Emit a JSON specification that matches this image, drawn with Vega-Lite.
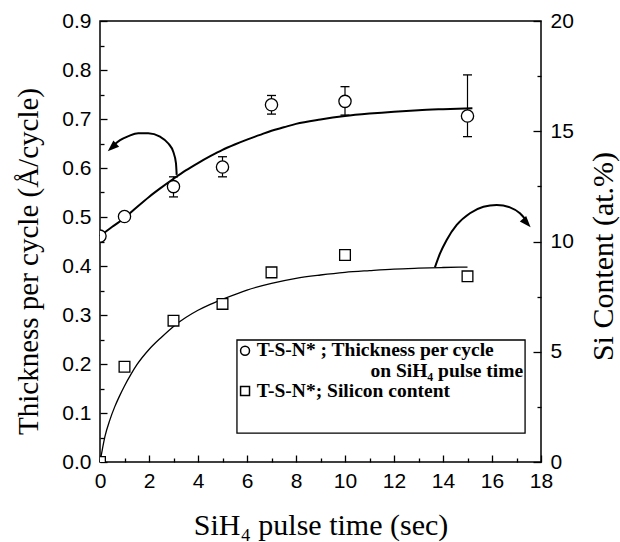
{
  "$schema": "https://vega.github.io/schema/vega-lite/v6.json",
  "width": 441,
  "height": 441,
  "autosize": {"type": "none"},
  "padding": {"left": 100, "top": 21, "right": 79, "bottom": 80},
  "background": "white",
  "config": {
    "view": {"stroke": "black", "strokeWidth": 1.5},
    "axis": {
      "labelFont": "Liberation Sans", "labelFontSize": 21, "labelColor": "black",
      "tickColor": "black", "tickWidth": 1.3, "domain": false, "grid": false,
      "titleFont": "Liberation Serif", "titleFontWeight": "normal", "titleColor": "black",
      "labelFlush": false, "labelOverlap": false
    }
  },
  "datasets": {
    "circles": [
      {"x": 0, "y": 0.461}, {"x": 1, "y": 0.501}, {"x": 3, "y": 0.562}, {"x": 5, "y": 0.602},
      {"x": 7, "y": 0.729}, {"x": 10, "y": 0.736}, {"x": 15, "y": 0.706}
    ],
    "errs": [
      {"x": 3, "lo": 0.541, "hi": 0.582}, {"x": 5, "lo": 0.582, "hi": 0.623},
      {"x": 7, "lo": 0.710, "hi": 0.748}, {"x": 10, "lo": 0.708, "hi": 0.766},
      {"x": 15, "lo": 0.664, "hi": 0.790}
    ],
    "squares": [
      {"x": 0, "y": 0}, {"x": 1, "y": 4.32}, {"x": 3, "y": 6.41}, {"x": 5, "y": 7.17},
      {"x": 7, "y": 8.6}, {"x": 10, "y": 9.39}, {"x": 15, "y": 8.42}
    ],
    "fitT": [
      {"x": 0, "y": 0.461}, {"x": 0.5, "y": 0.480}, {"x": 1, "y": 0.498}, {"x": 1.5, "y": 0.520},
      {"x": 2, "y": 0.541}, {"x": 2.5, "y": 0.560}, {"x": 3, "y": 0.578}, {"x": 3.5, "y": 0.595},
      {"x": 4, "y": 0.610}, {"x": 4.5, "y": 0.624}, {"x": 5, "y": 0.637}, {"x": 5.5, "y": 0.648},
      {"x": 6, "y": 0.658}, {"x": 6.5, "y": 0.667}, {"x": 7, "y": 0.676}, {"x": 7.5, "y": 0.683},
      {"x": 8, "y": 0.690}, {"x": 9, "y": 0.699}, {"x": 10, "y": 0.706}, {"x": 11, "y": 0.711},
      {"x": 12, "y": 0.715}, {"x": 13, "y": 0.718}, {"x": 14, "y": 0.720}, {"x": 15.2, "y": 0.722}
    ],
    "fitS": [
      {"x": 0, "y": 0}, {"x": 0.1, "y": 0.6}, {"x": 0.2, "y": 1.15}, {"x": 0.4, "y": 1.9},
      {"x": 0.6, "y": 2.5}, {"x": 0.8, "y": 3.0}, {"x": 1, "y": 3.45}, {"x": 1.25, "y": 3.95},
      {"x": 1.5, "y": 4.4}, {"x": 2, "y": 5.1}, {"x": 2.5, "y": 5.65}, {"x": 3, "y": 6.15},
      {"x": 3.5, "y": 6.55}, {"x": 4, "y": 6.88}, {"x": 4.5, "y": 7.15}, {"x": 5, "y": 7.38},
      {"x": 6, "y": 7.8}, {"x": 7, "y": 8.1}, {"x": 8, "y": 8.33}, {"x": 9, "y": 8.48},
      {"x": 10, "y": 8.6}, {"x": 11, "y": 8.68}, {"x": 12, "y": 8.75}, {"x": 13, "y": 8.79},
      {"x": 14, "y": 8.82}, {"x": 15, "y": 8.84}
    ],
    "arrow1": [
      {"o": 1, "x": 3.13, "y": 0.586}, {"o": 2, "x": 3.10, "y": 0.610}, {"o": 3, "x": 2.99, "y": 0.633},
      {"o": 4, "x": 2.79, "y": 0.650}, {"o": 5, "x": 2.45, "y": 0.664}, {"o": 6, "x": 1.97, "y": 0.671},
      {"o": 7, "x": 1.56, "y": 0.671}, {"o": 8, "x": 1.16, "y": 0.665}, {"o": 9, "x": 0.82, "y": 0.657},
      {"o": 10, "x": 0.54, "y": 0.646}
    ],
    "head1": [{"x": 0.49, "y": 0.642, "a": 228}],
    "arrow2": [
      {"o": 1, "x": 13.67, "y": 8.83}, {"o": 2, "x": 13.88, "y": 9.46}, {"o": 3, "x": 14.15, "y": 10.07},
      {"o": 4, "x": 14.56, "y": 10.75}, {"o": 5, "x": 15.10, "y": 11.28}, {"o": 6, "x": 15.65, "y": 11.58},
      {"o": 7, "x": 16.19, "y": 11.66}, {"o": 8, "x": 16.73, "y": 11.55}, {"o": 9, "x": 17.14, "y": 11.28},
      {"o": 10, "x": 17.40, "y": 10.95}
    ],
    "head2": [{"x": 17.42, "y": 10.84, "a": 138}],
    "legendBox": [{"x": 5.59, "x2": 17.35, "y": 0.059, "y2": 0.249}],
    "legendCircle": [{"x": 5.92, "y": 0.227}],
    "legendSquare": [{"x": 5.92, "y": 0.145}],
    "legendLeft": [
      {"x": 6.4, "y": 0.2163, "t": "T-S-N* ; Thickness per cycle"},
      {"x": 6.4, "y": 0.1327, "t": "T-S-N*; Silicon content"}
    ],
    "legendRight": [
      {"x": 17.27, "y": 0.1735, "t": "on SiH₄ pulse time"}
    ]
  },
  "layer": [
    {
      "layer": [
        {
          "data": {"name": "errs"},
          "mark": {"type": "rule", "color": "black", "strokeWidth": 1.2},
          "encoding": {
            "x": {"field": "x", "type": "quantitative", "scale": {"domain": [0, 18], "nice": false}, "axis": null},
            "y": {"field": "lo", "type": "quantitative", "scale": {"domain": [0, 0.9], "nice": false}, "axis": null},
            "y2": {"field": "hi"}
          }
        },
        {
          "data": {"name": "errs"},
          "mark": {"type": "tick", "orient": "horizontal", "color": "black", "size": 9, "thickness": 1.3, "opacity": 1},
          "encoding": {
            "x": {"field": "x", "type": "quantitative", "scale": {"domain": [0, 18], "nice": false}, "axis": null},
            "y": {"field": "lo", "type": "quantitative", "scale": {"domain": [0, 0.9], "nice": false}, "axis": null}
          }
        },
        {
          "data": {"name": "errs"},
          "mark": {"type": "tick", "orient": "horizontal", "color": "black", "size": 9, "thickness": 1.3, "opacity": 1},
          "encoding": {
            "x": {"field": "x", "type": "quantitative", "scale": {"domain": [0, 18], "nice": false}, "axis": null},
            "y": {"field": "hi", "type": "quantitative", "scale": {"domain": [0, 0.9], "nice": false}, "axis": null}
          }
        },
        {
          "data": {"name": "fitT"},
          "mark": {"type": "line", "color": "black", "strokeWidth": 2, "interpolate": "monotone"},
          "encoding": {
            "x": {"field": "x", "type": "quantitative", "scale": {"domain": [0, 18], "nice": false},
              "axis": {"orient": "bottom", "values": [1, 3, 5, 7, 9, 11, 13, 15, 17], "tickSize": -4, "labels": false, "title": null}},
            "y": {"field": "y", "type": "quantitative", "scale": {"domain": [0, 0.9], "nice": false},
              "axis": {"orient": "left", "values": [0.05, 0.15, 0.25, 0.35, 0.45, 0.55, 0.65, 0.75, 0.85], "tickSize": -4, "labels": false, "title": null}}
          }
        },
        {
          "data": {"name": "arrow1"},
          "mark": {"type": "line", "color": "black", "strokeWidth": 2, "interpolate": "monotone"},
          "encoding": {
            "x": {"field": "x", "type": "quantitative", "scale": {"domain": [0, 18], "nice": false}, "axis": null},
            "y": {"field": "y", "type": "quantitative", "scale": {"domain": [0, 0.9], "nice": false}, "axis": null},
            "order": {"field": "o", "type": "quantitative"}
          }
        },
        {
          "data": {"name": "head1"},
          "mark": {"type": "point", "shape": "M0,-1L0.75,1L-0.75,1Z", "filled": true, "color": "black", "opacity": 1, "size": 130},
          "encoding": {
            "x": {"field": "x", "type": "quantitative", "scale": {"domain": [0, 18], "nice": false}, "axis": null},
            "y": {"field": "y", "type": "quantitative", "scale": {"domain": [0, 0.9], "nice": false}, "axis": null},
            "angle": {"field": "a", "type": "quantitative", "scale": null}
          }
        },
        {
          "data": {"name": "circles"},
          "mark": {"type": "point", "shape": "circle", "filled": true, "fill": "white", "stroke": "black", "strokeWidth": 1.3, "opacity": 1, "size": 150, "clip": true},
          "encoding": {
            "x": {"field": "x", "type": "quantitative", "scale": {"domain": [0, 18], "nice": false},
              "axis": {"orient": "bottom", "values": [0, 2, 4, 6, 8, 10, 12, 14, 16, 18], "tickSize": -7, "labelPadding": 15,
                "title": "SiH₄ pulse time (sec)", "titleFontSize": 30, "titleBaseline": "alphabetic", "titleY": 72}},
            "y": {"field": "y", "type": "quantitative", "scale": {"domain": [0, 0.9], "nice": false},
              "axis": {"orient": "left", "values": [0, 0.1, 0.2, 0.3, 0.4, 0.5, 0.6, 0.7, 0.8, 0.9], "format": ".1f", "tickSize": -7, "labelPadding": 16,
                "title": "Thickness per cycle (Å/cycle)", "titleFontSize": 29, "titleAngle": 270, "titleBaseline": "alphabetic", "titleAlign": "center", "titleX": -63, "titleY": 240}}
          }
        },
        {
          "data": {"name": "legendBox"},
          "mark": {"type": "rect", "fill": "white", "stroke": "black", "strokeWidth": 1.3},
          "encoding": {
            "x": {"field": "x", "type": "quantitative", "scale": {"domain": [0, 18], "nice": false}, "axis": null},
            "x2": {"field": "x2"},
            "y": {"field": "y", "type": "quantitative", "scale": {"domain": [0, 0.9], "nice": false}, "axis": null},
            "y2": {"field": "y2"}
          }
        },
        {
          "data": {"name": "legendCircle"},
          "mark": {"type": "point", "shape": "circle", "filled": false, "color": "black", "strokeWidth": 1.5, "opacity": 1, "size": 80},
          "encoding": {
            "x": {"field": "x", "type": "quantitative", "scale": {"domain": [0, 18], "nice": false}, "axis": null},
            "y": {"field": "y", "type": "quantitative", "scale": {"domain": [0, 0.9], "nice": false}, "axis": null}
          }
        },
        {
          "data": {"name": "legendSquare"},
          "mark": {"type": "point", "shape": "square", "filled": false, "color": "black", "strokeWidth": 1.5, "opacity": 1, "size": 80},
          "encoding": {
            "x": {"field": "x", "type": "quantitative", "scale": {"domain": [0, 18], "nice": false}, "axis": null},
            "y": {"field": "y", "type": "quantitative", "scale": {"domain": [0, 0.9], "nice": false}, "axis": null}
          }
        },
        {
          "data": {"name": "legendLeft"},
          "mark": {"type": "text", "align": "left", "baseline": "alphabetic", "font": "Liberation Serif", "fontWeight": "bold", "fontSize": 19.5, "color": "black"},
          "encoding": {
            "x": {"field": "x", "type": "quantitative", "scale": {"domain": [0, 18], "nice": false}, "axis": null},
            "y": {"field": "y", "type": "quantitative", "scale": {"domain": [0, 0.9], "nice": false}, "axis": null},
            "text": {"field": "t"}
          }
        },
        {
          "data": {"name": "legendRight"},
          "mark": {"type": "text", "align": "right", "baseline": "alphabetic", "font": "Liberation Serif", "fontWeight": "bold", "fontSize": 19.5, "color": "black"},
          "encoding": {
            "x": {"field": "x", "type": "quantitative", "scale": {"domain": [0, 18], "nice": false}, "axis": null},
            "y": {"field": "y", "type": "quantitative", "scale": {"domain": [0, 0.9], "nice": false}, "axis": null},
            "text": {"field": "t"}
          }
        }
      ],
      "resolve": {"axis": {"x": "independent", "y": "independent"}}
    },
    {
      "layer": [
        {
          "data": {"name": "fitS"},
          "mark": {"type": "line", "color": "black", "strokeWidth": 1.3, "interpolate": "monotone"},
          "encoding": {
            "x": {"field": "x", "type": "quantitative", "scale": {"domain": [0, 18], "nice": false}, "axis": null},
            "y": {"field": "y", "type": "quantitative", "scale": {"domain": [0, 20], "nice": false},
              "axis": {"orient": "right", "values": [2.5, 7.5, 12.5, 17.5], "tickSize": -4, "labels": false, "title": null}}
          }
        },
        {
          "data": {"name": "arrow2"},
          "mark": {"type": "line", "color": "black", "strokeWidth": 2, "interpolate": "monotone"},
          "encoding": {
            "x": {"field": "x", "type": "quantitative", "scale": {"domain": [0, 18], "nice": false}, "axis": null},
            "y": {"field": "y", "type": "quantitative", "scale": {"domain": [0, 20], "nice": false}, "axis": null},
            "order": {"field": "o", "type": "quantitative"}
          }
        },
        {
          "data": {"name": "head2"},
          "mark": {"type": "point", "shape": "M0,-1L0.75,1L-0.75,1Z", "filled": true, "color": "black", "opacity": 1, "size": 130},
          "encoding": {
            "x": {"field": "x", "type": "quantitative", "scale": {"domain": [0, 18], "nice": false}, "axis": null},
            "y": {"field": "y", "type": "quantitative", "scale": {"domain": [0, 20], "nice": false}, "axis": null},
            "angle": {"field": "a", "type": "quantitative", "scale": null}
          }
        },
        {
          "data": {"name": "squares"},
          "mark": {"type": "point", "shape": "square", "filled": true, "fill": "white", "stroke": "black", "strokeWidth": 1.3, "opacity": 1, "size": 115, "clip": true},
          "encoding": {
            "x": {"field": "x", "type": "quantitative", "scale": {"domain": [0, 18], "nice": false}, "axis": null},
            "y": {"field": "y", "type": "quantitative", "scale": {"domain": [0, 20], "nice": false},
              "axis": {"orient": "right", "values": [0, 5, 10, 15, 20], "tickSize": -8, "labelPadding": 17,
                "title": "Si Content (at.%)", "titleFontSize": 30, "titleAngle": 270, "titleBaseline": "alphabetic", "titleAlign": "center", "titleX": 71, "titleY": 235}}
          }
        }
      ],
      "resolve": {"axis": {"y": "independent"}}
    }
  ],
  "resolve": {"scale": {"y": "independent"}, "axis": {"x": "independent", "y": "independent"}}
}
